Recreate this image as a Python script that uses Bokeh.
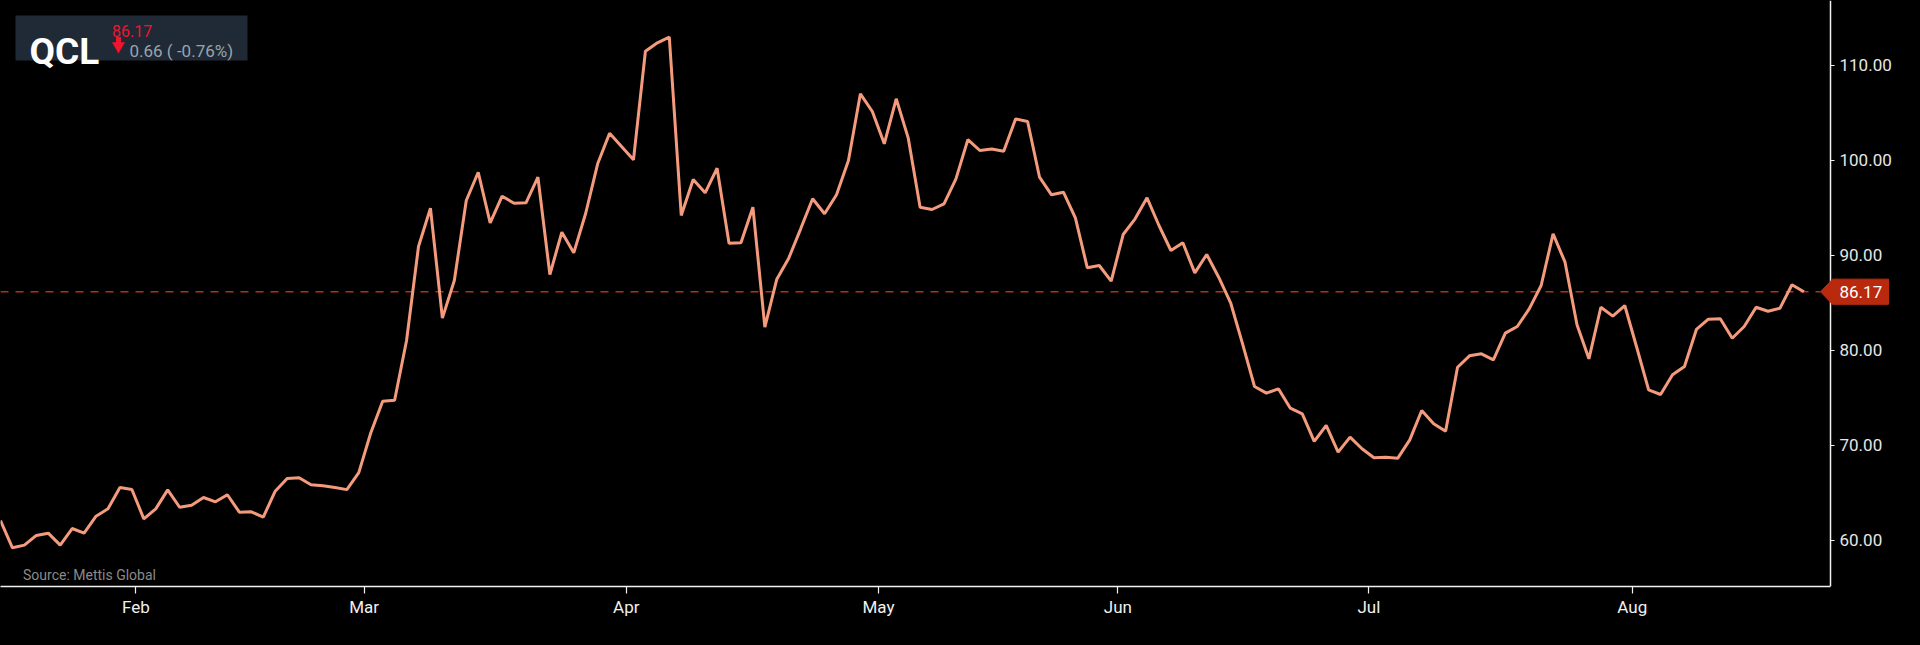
from bokeh.plotting import figure
from bokeh.models import (Range1d, FixedTicker, NumeralTickFormatter, Span, Label,
                          PolyAnnotation, BoxAnnotation, GlobalInlineStyleSheet)
from bokeh.embed import file_html
from bokeh.resources import INLINE

# ---------------- data ----------------
symbol = "QCL"
last_price = 86.17
change_text = "0.66 ( -0.76%)"
source_text = "Source: Mettis Global"

prices = [
    62.10, 59.23, 59.51, 60.53, 60.77, 59.51, 61.26, 60.77, 62.56, 63.33,
    65.58, 65.37, 62.28, 63.33, 65.33, 63.50, 63.71, 64.52, 64.07, 64.81,
    62.98, 63.02, 62.45, 65.19, 66.52, 66.60, 65.86, 65.75, 65.58, 65.35,
    67.14, 71.31, 74.64, 74.76, 81.04, 90.93, 94.96, 83.39, 87.35, 95.77,
    98.74, 93.42, 96.22, 95.48, 95.53, 98.22, 87.98, 92.43, 90.26, 94.43,
    99.63, 102.85, 101.45, 100.05, 111.47, 112.36, 112.95, 94.19, 97.98, 96.58,
    99.16, 91.28, 91.32, 95.06, 82.44, 87.49, 89.70, 92.79, 95.95, 94.37,
    96.37, 99.97, 106.99, 105.13, 101.73, 106.47, 102.36, 95.06, 94.82, 95.42,
    98.05, 102.18, 101.03, 101.18, 100.95, 104.36, 104.08, 98.22, 96.37, 96.64,
    93.95, 88.69, 88.93, 87.28, 92.19, 93.84, 96.05, 93.14, 90.51, 91.32,
    88.16, 90.09, 87.70, 85.01, 80.69, 76.20, 75.50, 75.96, 73.92, 73.33,
    70.42, 72.10, 69.29, 70.87, 69.65, 68.70, 68.76, 68.66, 70.59, 73.68,
    72.28, 71.50, 78.23, 79.43, 79.64, 79.01, 81.81, 82.51, 84.37, 86.83,
    92.26, 89.28, 82.69, 79.11, 84.54, 83.60, 84.72, 80.33, 75.85, 75.36,
    77.43, 78.30, 82.20, 83.28, 83.32, 81.28, 82.51, 84.54, 84.12, 84.44,
    86.90, 86.17,
]
days = list(range(len(prices)))

month_ticks = [11.33, 30.45, 52.40, 73.52, 93.56, 114.58, 136.63]
month_labels = ["Feb", "Mar", "Apr", "May", "Jun", "Jul", "Aug"]
price_ticks = [60, 70, 80, 90, 100, 110]

# ---------------- layout ----------------
W, H = 1912, 637          # canvas (frame spans full width)
AXIS_X = 1830             # pixel position of the price axis
FH = 586                  # frame height
PX_PER_DAY = 11.943
X_END = W / PX_PER_DAY
Y0, Y1 = 55.16, 116.81


def px(xp):
    """pixel x from frame left -> data x"""
    return xp / PX_PER_DAY


def py(yp):
    """pixel y from frame top -> data y"""
    return Y1 - yp / FH * (Y1 - Y0)


FONT = "Roboto"
LINE_COLOR = "#f59b7d"
MARK_COLOR = "#b8290e"

p = figure(width=W, height=H, x_range=Range1d(0, X_END), y_range=Range1d(Y0, Y1),
           output_backend="svg", toolbar_location=None, y_axis_location="right",
           background_fill_color="#000000", border_fill_color="#000000",
           min_border_left=0, min_border_top=0,
           min_border_right=0, min_border_bottom=H - FH)
p.outline_line_color = None
p.xgrid.visible = False
p.ygrid.visible = False
p.stylesheets = [GlobalInlineStyleSheet(
    css="html, body { margin: 0 !important; padding: 0; background: #000000; overflow: hidden; }")]

# axes
xa = p.xaxis[0]
xa.ticker = FixedTicker(ticks=month_ticks)
xa.major_label_overrides = {t: l for t, l in zip(month_ticks, month_labels)}
xa.bounds = (0, px(AXIS_X))
xa.axis_line_color = "#f2f2f2"
xa.axis_line_width = 1.5
xa.major_tick_line_color = "#f2f2f2"
xa.major_tick_line_width = 1.2
xa.major_tick_out = 7
xa.major_tick_in = 0
xa.minor_tick_line_color = None
xa.major_label_text_font = FONT
xa.major_label_text_font_size = "17px"
xa.major_label_text_color = "#f0f0f0"
xa.major_label_standoff = 3

ya = p.yaxis[0]
ya.fixed_location = px(AXIS_X)
ya.ticker = FixedTicker(ticks=price_ticks)
ya.formatter = NumeralTickFormatter(format="0.00")
ya.axis_line_color = "#f2f2f2"
ya.axis_line_width = 1.5
ya.major_tick_line_color = "#f2f2f2"
ya.major_tick_line_width = 1.2
ya.major_tick_out = 4
ya.major_tick_in = 0
ya.minor_tick_line_color = None
ya.major_label_text_font = FONT
ya.major_label_text_font_size = "17px"
ya.major_label_text_color = "#e6e6e6"
ya.major_label_standoff = 5

# last price dashed line (up to the price axis)
p.segment(x0=[0], y0=[last_price], x1=[px(1820)], y1=[last_price],
          line_color="#b3301a", line_width=1.5, line_dash="8 7")

# price line
p.line(days, prices, line_color=LINE_COLOR, line_width=3)

# last price marker on the price axis
tip, bl, br = 1820, 1832, 1888
half = 12.6 * (Y1 - Y0) / FH
ytop = last_price + half
ybot = last_price - half
p.add_layout(PolyAnnotation(xs=[px(tip), px(bl), px(br), px(br), px(bl)],
                            ys=[last_price, ytop, ytop, ybot, ybot],
                            xs_units="data", ys_units="data",
                            fill_color=MARK_COLOR, fill_alpha=1.0,
                            line_color=MARK_COLOR, line_alpha=1.0))
p.add_layout(Label(x=px(1839), y=last_price, text=f"{last_price:.2f}",
                   text_font=FONT, text_font_size="17px", text_color="#ffffff",
                   text_align="left", text_baseline="middle"))

# ticker badge top-left
p.add_layout(BoxAnnotation(left=px(15), right=px(247), top=py(15), bottom=py(60),
                           fill_color="#1f2a36", fill_alpha=1.0, line_color=None,
                           level="underlay"))
p.add_layout(Label(x=px(29), y=py(50.7), text=symbol, text_font=FONT,
                   text_font_size="37px", text_font_style="bold", text_color="#ffffff",
                   text_align="left", text_baseline="alphabetic"))
p.add_layout(Label(x=px(111.5), y=py(30), text=f"{last_price:.2f}", text_font=FONT,
                   text_font_size="16px", text_color="#f0142d",
                   text_align="left", text_baseline="alphabetic"))
p.add_layout(Label(x=px(129), y=py(50), text=change_text, text_font=FONT,
                   text_font_size="17px", text_color="#9aa3ab",
                   text_align="left", text_baseline="alphabetic"))
# down arrow icon
p.rect(x=[px(118)], y=[py(40)], width=5, height=7, width_units="screen",
       height_units="screen", fill_color="#f0142d", line_color=None)
p.scatter(x=[px(118)], y=[py(45.5)], marker="inverted_triangle", size=13,
          fill_color="#f0142d", line_color=None)

# source note
p.add_layout(Label(x=px(22.5), y=py(574), text=source_text, text_font=FONT,
                   text_font_size="14px", text_color="#8a8a8a",
                   text_align="left", text_baseline="alphabetic"))

open("out.html", "w").write(file_html(p, INLINE))
